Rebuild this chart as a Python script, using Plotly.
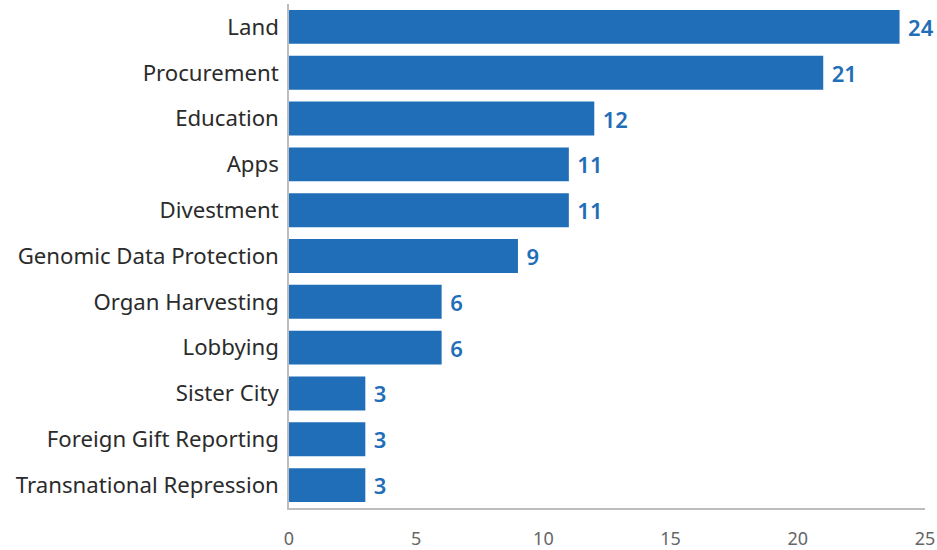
import plotly.graph_objects as go

categories = ["Land", "Procurement", "Education", "Apps", "Divestment",
              "Genomic Data Protection", "Organ Harvesting", "Lobbying",
              "Sister City", "Foreign Gift Reporting", "Transnational Repression"]
values = [24, 21, 12, 11, 11, 9, 6, 6, 3, 3, 3]
x_ticks = [0, 5, 10, 15, 20, 25]

bar_color = "#1f6eb7"
font_family = "Noto Sans, sans-serif"

fig = go.Figure(go.Bar(
    x=values, y=categories, orientation="h",
    marker=dict(color=bar_color, line=dict(width=0)),
    width=0.74,
    text=values, texttemplate="\u2005%{x}", textposition="outside",
    textfont=dict(color=bar_color, size=22, family=font_family, weight=600),
    cliponaxis=False,
))

fig.update_layout(
    width=937, height=550,
    margin=dict(l=289, r=12, t=4, b=42, autoexpand=False),
    plot_bgcolor="white", paper_bgcolor="white",
    showlegend=False,
    font=dict(family=font_family),
)
fig.update_xaxes(
    range=[0, 25], tickvals=x_ticks, showgrid=False, zeroline=False,
    showline=True, linecolor="#bdbdbd", linewidth=1.5, automargin=False,
    tickfont=dict(size=18, color="#666666"), ticks="", ticklabelstandoff=14,
)
fig.update_yaxes(
    autorange="reversed", showgrid=False, zeroline=False,
    showline=True, linecolor="#bdbdbd", linewidth=1.5, automargin=False,
    tickfont=dict(size=22.2, color="#2b2b2b"), ticks="", ticklabelstandoff=4,
)

fig.write_html(
    "out.html",
    config={"displayModeBar": False},
    post_script="document.body.style.margin='0';document.body.style.padding='0';",
)
